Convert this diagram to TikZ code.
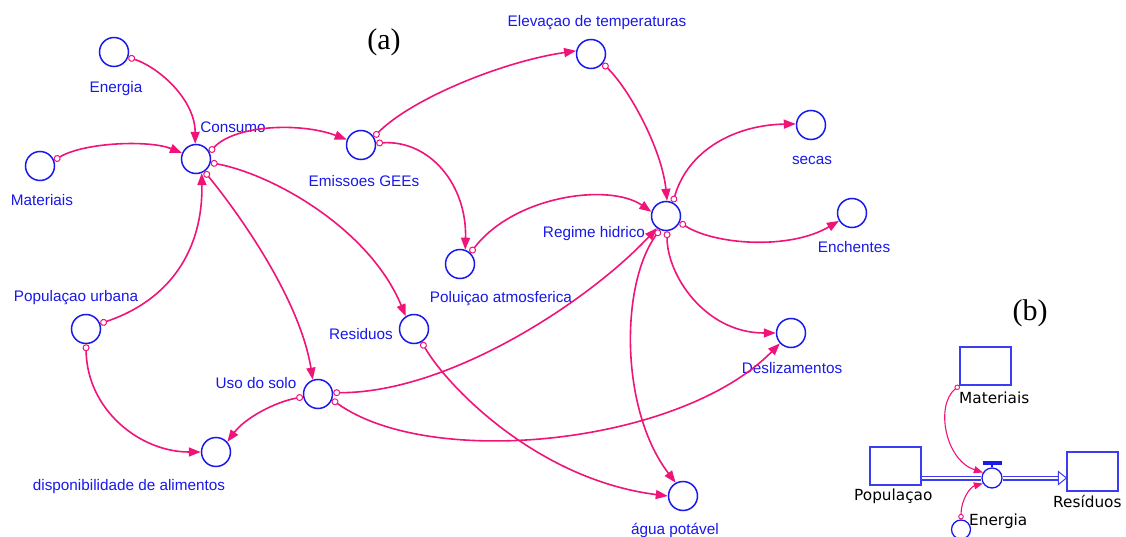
\documentclass[tikz,border=0pt]{standalone}
\usepackage{fontspec}
\setmainfont{Liberation Serif}
\newfontfamily\lsans{Liberation Sans}
\newfontfamily\dvs{DejaVu Sans}
\usetikzlibrary{arrows.meta}
\definecolor{vblue}{RGB}{25,25,235}
\definecolor{sblue}{RGB}{60,60,240}
\definecolor{lpink}{RGB}{240,20,120}
\begin{document}
\begin{tikzpicture}[x=1pt,y=-1pt,
  var/.style={circle, draw=vblue, line width=1.5pt, minimum size=29pt, inner sep=0pt},
  lbl/.style={text=vblue, font=\lsans\fontsize{15.3}{18}\selectfont, anchor=base, inner sep=0pt},
  blbl/.style={text=black, font=\dvs\fontsize{15.3}{18}\selectfont, anchor=base west, inner sep=0pt},
  panel/.style={font=\fontsize{30}{34}\selectfont, anchor=base, inner sep=0pt},
  link/.style={draw=lpink, line width=1.6pt,
    {Circle[open, length=7pt, width=7pt, line width=1pt]}-{Triangle[length=12pt, width=9pt]}},
  blink/.style={draw=lpink, line width=1.1pt,
    {Circle[open, length=5.5pt, width=5.5pt, line width=0.9pt]}-{Triangle[length=9pt, width=7pt]}},
  stock/.style={rectangle, draw=sblue, line width=1.2pt, minimum width=51pt, minimum height=38pt, inner sep=0pt},
  pipe/.style={draw=sblue, line width=1.1pt, double=white, double distance=2.8pt},
]
\useasboundingbox (0,0) rectangle (1126,537);
\clip (0,0) rectangle (1126,537);
\fill[white] (0,0) rectangle (1126,537);

% ---------- panel (a) ----------
\node[panel] (pa) at (384,50) {(a)};

\node[var] (E) at (114,52) {};
\node[var] (M) at (40,166) {};
\node[var] (C) at (196,159) {};
\node[var] (G) at (361,145) {};
\node[var] (T) at (591,54) {};
\node[var] (S) at (811,125) {};
\node[var] (N) at (852,213) {};
\node[var] (H) at (666,216) {};
\node[var] (P) at (460,264) {};
\node[var] (R) at (414,329) {};
\node[var] (U) at (86,329) {};
\node[var] (L) at (318,394) {};
\node[var] (D) at (216,452) {};
\node[var] (Z) at (791,333) {};
\node[var] (A) at (683,496) {};

\node[lbl] (Elab) at (116,93) {Energia};
\node[lbl] (Mlab) at (42,206) {Materiais};
\node[lbl] (Clab) at (233,133) {Consumo};
\node[lbl] (Glab) at (364,187) {Emissoes GEEs};
\node[lbl] (Tlab) at (597,27) {Elevaçao de temperaturas};
\node[lbl] (Slab) at (812,165) {secas};
\node[lbl] (Nlab) at (854,253) {Enchentes};
\node[lbl] (Hlab) at (594,238) {Regime hidrico};
\node[lbl] (Plab) at (501,302) {Poluiçao atmosferica};
\node[lbl] (Rlab) at (361,339) {Residuos};
\node[lbl] (Ulab) at (76,301) {Populaçao urbana};
\node[lbl] (Llab) at (256,388) {Uso do solo};
\node[lbl] (Dlab) at (129,490) {disponibilidade de alimentos};
\node[lbl] (Zlab) at (792,373) {Deslizamentos};
\node[lbl] (Alab) at (675,534) {água potável};

\draw[link] (E.-20) .. controls (160,68) and (195,100) .. (C.93);
\draw[link] (M.22) .. controls (85,142) and (150,140) .. (C.157);
\draw[link] (U.21) .. controls (170,300) and (203,250) .. (C.-68);
\draw[link] (U.-90) .. controls (87,410) and (140,452) .. (D.180);
\draw[link] (C.27) .. controls (235,125) and (300,122) .. (G.159);
\draw[link] (C.-14) .. controls (275,175) and (370,230) .. (R.123);
\draw[link] (C.-56) .. controls (240,215) and (300,300) .. (L.110);
\draw[link] (G.32) .. controls (410,100) and (500,62) .. (T.168);
\draw[link] (G.7) .. controls (430,140) and (467,185) .. (P.70);
\draw[link] (T.-39) .. controls (630,90) and (662,150) .. (H.86);
\draw[link] (P.47) .. controls (515,195) and (610,183) .. (H.164);
\draw[link] (H.63) .. controls (688,150) and (735,125) .. (S.176);
\draw[link] (H.-25) .. controls (715,245) and (790,250) .. (N.211);
\draw[link] (H.-86) .. controls (667,275) and (705,333) .. (Z.180);
\draw[link] (H.-114) .. controls (620,285) and (620,410) .. (A.119);
\draw[link] (L.5) .. controls (450,393) and (590,300) .. (H.233);
\draw[link] (L.-22) .. controls (430,470) and (680,445) .. (Z.223);
\draw[link] (L.191) .. controls (275,402) and (245,418) .. (D.42);
\draw[link] (R.-60) .. controls (450,390) and (540,480) .. (A.180);

% ---------- panel (b) ----------
\node[panel] (pb) at (1030,320) {(b)};

\node[stock] (bM) at (985.5,366) {};
\node[stock] (bP) at (895.5,466) {};
\node[stock, minimum height=39pt] (bR) at (1092.5,471.5) {};
\node[circle, draw=vblue, line width=1.3pt, minimum size=20pt, inner sep=0pt, fill=white] (bV) at (992,478) {};
\node[circle, draw=vblue, line width=1.3pt, minimum size=19pt, inner sep=0pt] (bE) at (961,529.5) {};

\node[blbl] (bMlab) at (959,403) {Materiais};
\node[blbl] (bPlab) at (854,500) {Populaçao};
\node[blbl] (bRlab) at (1053,507) {Resíduos};
\node[blbl] (bElab) at (969,525) {Energia};

% valve handle
\fill[vblue] (983,461) rectangle (1002,464.5);
\draw[vblue, line width=1.2pt] (992,464.5) -- (bV.north);

% flow pipe
\draw[pipe] (bP.east |- bV.center) -- (bV.west);
\draw[pipe, shorten >=8pt] (bV.east) -- (bR.west |- bV.center);
\draw[sblue, line width=1pt, fill=white] (bR.west |- bV.center) -- ++(-8,-6.5) -- ++(0,13) -- cycle;

\draw[blink] (bM.south west) .. controls (935,405) and (945,460) .. (bV.149);
\draw[blink] (bE.90) .. controls (961,500) and (970,487) .. (bV.211);
\end{tikzpicture}
\end{document}
